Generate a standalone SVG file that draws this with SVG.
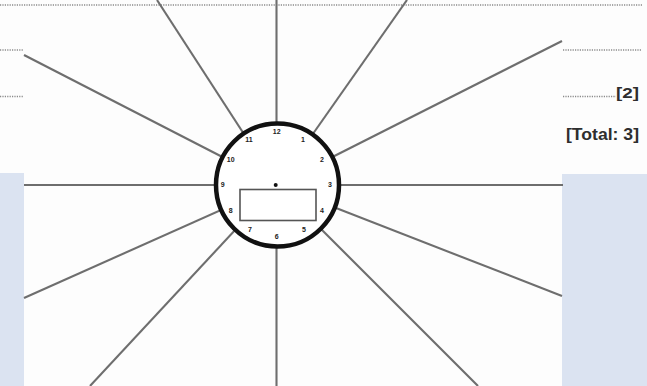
<svg xmlns="http://www.w3.org/2000/svg" width="647" height="386" viewBox="0 0 647 386">
<style>
.dot{stroke:#8a8a8a;stroke-width:1.6;stroke-dasharray:1.2 1.2;fill:none}
.ray{stroke:#6e6e6e;stroke-width:2.1;fill:none}
.num{font-family:"Liberation Sans",Arial,sans-serif;font-weight:bold;font-size:7px;fill:#222;text-anchor:middle}
.lbl{font-family:"Liberation Sans",Arial,sans-serif;font-weight:bold;fill:#2e2e2e}
</style>
<rect width="647" height="386" fill="#fdfdfd"/>
<rect x="0" y="173" width="24" height="213" fill="#dbe3f1"/>
<rect x="562" y="174" width="85" height="212" fill="#dbe3f1"/>
<g id="dotted">
<line class="dot" x1="0" y1="5" x2="642" y2="5"/>
<line class="dot" x1="0" y1="50" x2="23" y2="50"/>
<line class="dot" x1="0" y1="96.5" x2="23" y2="96.5"/>
<line class="dot" x1="563" y1="50" x2="642" y2="50"/>
<line class="dot" x1="563" y1="96.5" x2="616" y2="96.5"/>
</g>
<g id="labels">
<text class="lbl" x="616" y="97.5" font-size="15.5" textLength="23" lengthAdjust="spacingAndGlyphs">[2]</text>
<text class="lbl" x="566" y="140" font-size="16.5" textLength="73" lengthAdjust="spacingAndGlyphs">[Total: 3]</text>
</g>
<g id="connectors">
<line class="ray" x1="276.5" y1="0" x2="276.5" y2="185"/>
<line class="ray" x1="276.5" y1="185" x2="276.5" y2="386"/>
<line class="ray" x1="24" y1="185" x2="277" y2="185"/>
<line class="ray" x1="277" y1="185" x2="563" y2="185"/>
<line class="ray" x1="157" y1="0" x2="277" y2="185"/>
<line class="ray" x1="407" y1="0" x2="277" y2="185"/>
<line class="ray" x1="24" y1="55" x2="277" y2="185"/>
<line class="ray" x1="562" y1="41" x2="277" y2="185"/>
<line class="ray" x1="24" y1="298" x2="277" y2="185"/>
<line class="ray" x1="562" y1="296" x2="277" y2="185"/>
<line class="ray" x1="90" y1="386" x2="277" y2="185"/>
<line class="ray" x1="478" y1="386" x2="277" y2="185"/>
</g>
<g id="clock">
<circle cx="277.5" cy="185" r="61.5" fill="#fff" stroke="#111" stroke-width="4.5"/>
<circle cx="275.7" cy="185" r="2" fill="#111"/>
<rect x="240" y="189.5" width="76" height="31" fill="#fff" stroke="#555" stroke-width="1.6"/>
<text class="num" x="276.7" y="134.2">12</text>
<text class="num" x="303" y="141.5">1</text>
<text class="num" x="322" y="161.5">2</text>
<text class="num" x="330" y="186.5">3</text>
<text class="num" x="322" y="212.5">4</text>
<text class="num" x="304" y="231.5">5</text>
<text class="num" x="276.7" y="239.2">6</text>
<text class="num" x="250" y="231.5">7</text>
<text class="num" x="230.7" y="212.5">8</text>
<text class="num" x="222.7" y="186.5">9</text>
<text class="num" x="230.7" y="161.5">10</text>
<text class="num" x="249" y="141.5">11</text>
</g>
</svg>
